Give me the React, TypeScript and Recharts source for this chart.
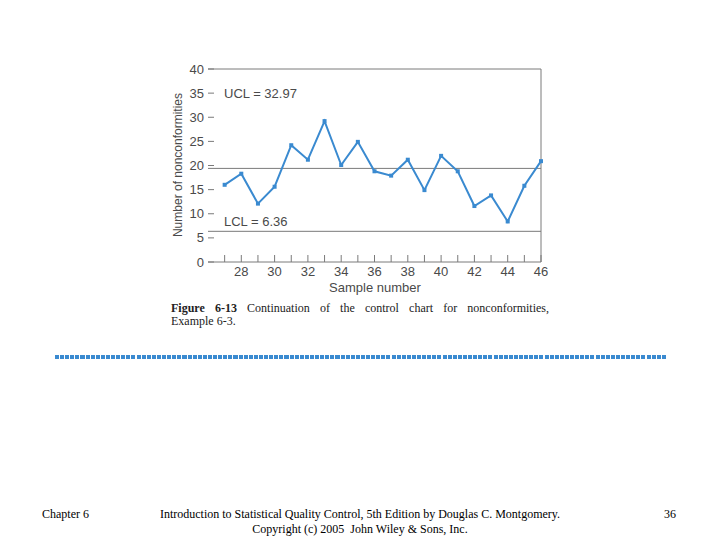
import {
  LineChart,
  Line,
  XAxis,
  YAxis,
  ReferenceLine,
} from "recharts";

const SAMPLES = [27, 28, 29, 30, 31, 32, 33, 34, 35, 36, 37, 38, 39, 40, 41, 42, 43, 44, 45, 46];
const NONCONFORMITIES = [16, 18.3, 12.1, 15.6, 24.2, 21.2, 29.2, 20.1, 24.9, 18.8, 17.9, 21.2, 14.9, 22, 18.8, 11.6, 13.8, 8.4, 15.8, 20.9];
const Y_TICKS = [0, 5, 10, 15, 20, 25, 30, 35, 40];
const CENTER_LINE = 19.4;
const LCL = 6.36;
const UCL = 32.97;

const data = SAMPLES.map((s, i) => ({ sample: s, count: NONCONFORMITIES[i] }));

const BLUE = "#3a8ad0";
const GRAY = "#7a7a7a";
const TEXT = "#4a4a4a";
const SANS = "'Liberation Sans', Arial, sans-serif";
const SERIF = "'Liberation Serif', 'Times New Roman', serif";

function SquareDot(props: { cx?: number; cy?: number }) {
  const { cx, cy } = props;
  if (cx == null || cy == null) return null;
  return <rect x={cx - 2} y={cy - 2} width={4} height={4} fill={BLUE} />;
}

export default function App() {
  return (
    <div
      style={{
        position: "absolute",
        left: 0,
        top: 0,
        width: 720,
        height: 540,
        background: "#fff",
        overflow: "hidden",
      }}
    >
      <div style={{ position: "absolute", left: 0, top: 0 }}>
        <LineChart
          width={720}
          height={540}
          data={data}
          margin={{ top: 69, right: 179, bottom: 248, left: 178 }}
        >
          <XAxis
            dataKey="sample"
            type="number"
            domain={[26, 46]}
            ticks={SAMPLES}
            interval={0}
            tickFormatter={(v: number) => (v % 2 === 0 ? String(v) : "")}
            tickSize={-7}
            tickMargin={12}
            tick={{ fill: TEXT, fontSize: 13, fontFamily: SANS }}
            stroke={GRAY}
            axisLine={{ stroke: GRAY }}
            tickLine={{ stroke: GRAY }}
            height={30}
          />
          <YAxis
            type="number"
            domain={[0, 40]}
            ticks={Y_TICKS}
            interval={0}
            width={30}
            tickSize={-6}
            tickMargin={10}
            axisLine={false}
            tick={{ fill: TEXT, fontSize: 13, fontFamily: SANS }}
            tickLine={{ stroke: GRAY }}
          />
          <ReferenceLine y={40} stroke={GRAY} />
          <ReferenceLine x={46} stroke={GRAY} />
          <ReferenceLine y={CENTER_LINE} stroke={GRAY} />
          <ReferenceLine y={LCL} stroke={GRAY} />
          <Line
            dataKey="count"
            stroke={BLUE}
            strokeWidth={2}
            dot={<SquareDot />}
            isAnimationActive={false}
          />
        </LineChart>
      </div>

      <div
        style={{
          position: "absolute",
          left: 224,
          top: 86,
          fontFamily: SANS,
          fontSize: 13,
          color: TEXT,
        }}
      >
        UCL = {UCL}
      </div>
      <div
        style={{
          position: "absolute",
          left: 224,
          top: 214,
          fontFamily: SANS,
          fontSize: 13,
          color: TEXT,
        }}
      >
        LCL = {LCL}
      </div>
      <div
        style={{
          position: "absolute",
          left: 178 - 80,
          top: 158,
          width: 160,
          textAlign: "center",
          transform: "rotate(-90deg)",
          fontFamily: SANS,
          fontSize: 12,
          color: TEXT,
          whiteSpace: "nowrap",
        }}
      >
        Number of nonconformities
      </div>
      <div
        style={{
          position: "absolute",
          left: 300,
          top: 280,
          width: 150,
          textAlign: "center",
          fontFamily: SANS,
          fontSize: 13,
          color: TEXT,
        }}
      >
        Sample number
      </div>

      <div
        style={{
          position: "absolute",
          left: 171,
          top: 302,
          width: 378,
          fontFamily: SERIF,
          fontSize: 12,
          lineHeight: "13px",
          color: "#222",
        }}
      >
        <div style={{ textAlign: "justify", textAlignLast: "justify" }}>
          <b>Figure 6-13</b> Continuation of the control chart for nonconformities,
        </div>
        <div>Example 6-3.</div>
      </div>

      <div
        style={{
          position: "absolute",
          left: 55,
          top: 355,
          width: 612,
          height: 4,
          background: `repeating-linear-gradient(to right, ${BLUE} 0px, ${BLUE} 4px, transparent 4px, transparent 5.1px)`,
        }}
      />

      <div
        style={{
          position: "absolute",
          left: 42,
          top: 507,
          fontFamily: SERIF,
          fontSize: 12,
          color: "#000",
        }}
      >
        Chapter 6
      </div>
      <div
        style={{
          position: "absolute",
          left: 140,
          top: 507,
          width: 440,
          textAlign: "center",
          fontFamily: SERIF,
          fontSize: 12,
          lineHeight: "15px",
          color: "#000",
        }}
      >
        Introduction to Statistical Quality Control, 5th Edition by Douglas C. Montgomery.
        <br />
        Copyright (c) 2005&nbsp; John Wiley &amp; Sons, Inc.
      </div>
      <div
        style={{
          position: "absolute",
          left: 664,
          top: 507,
          fontFamily: SERIF,
          fontSize: 12,
          color: "#000",
        }}
      >
        36
      </div>
    </div>
  );
}
